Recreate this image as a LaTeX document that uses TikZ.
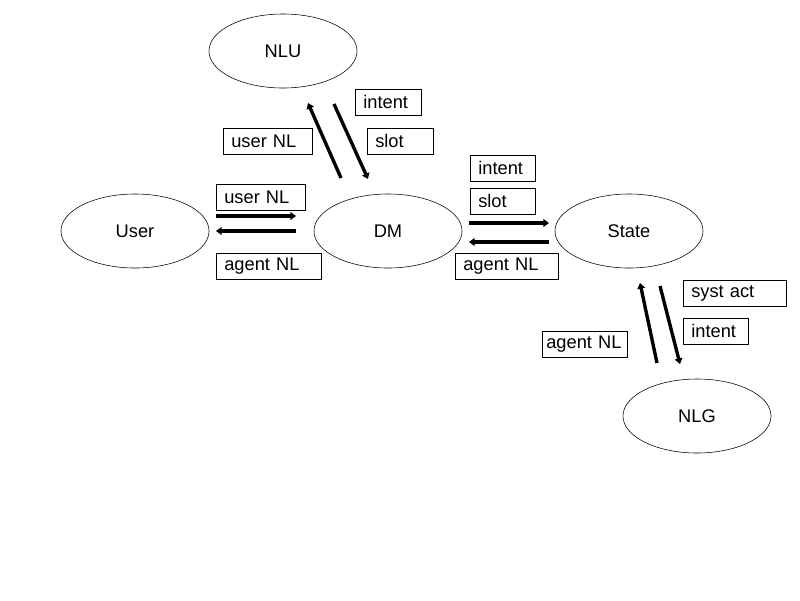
\documentclass[tikz,border=0pt]{standalone}
\usepackage{fontspec}
\setmainfont{Liberation Sans}
\usetikzlibrary{positioning, shapes.geometric, arrows.meta}

\begin{document}
\begin{tikzpicture}[
	x=0.025cm, y=-0.025cm,
	agent/.style={ellipse, draw, minimum width=3.7cm, minimum height=1.85cm, font=\fontsize{13}{15}\selectfont},
	tag/.style={rectangle, draw, anchor=north west, minimum height=0.64cm, inner xsep=0.2cm, align=left, font=\fontsize{13}{15}\selectfont},
	flow/.style={line width=2.4pt, -{Triangle[length=4pt, width=5.5pt]}},
]
\useasboundingbox (0,0) rectangle (800,600);

% modules
\node[agent] (nlu) at (283,51) {NLU};
\node[agent] (user) at (135,231) {User};
\node[agent] (dm) at (388,231) {DM};
\node[agent] (state) at (629,231) {State};
\node[agent] (nlg) at (697,416) {NLG};

% labels
\node[tag, text width=1.25cm] (intentnlu) at (355,89) {intent};
\node[tag, text width=1.825cm] (usernlnlu) at (223,128) {user NL};
\node[tag, text width=1.25cm] (slotnlu) at (367,128) {slot};
\node[tag, text width=1.225cm] (intentst) at (470,155) {intent};
\node[tag, text width=1.225cm] (slotst) at (470,188) {slot};
\node[tag, text width=1.825cm] (usernlud) at (216,184) {user NL};
\node[tag, text width=2.225cm] (agentnlud) at (216,253) {agent NL};
\node[tag, text width=2.175cm] (agentnlds) at (455,253) {agent NL};
\node[tag, text width=2.175cm] (systact) at (683,280) {syst act};
\node[tag, text width=1.925cm, inner xsep=0.1cm] (agentnlng) at (542,331) {agent NL};
\node[tag, text width=1.225cm] (intentng) at (683,318) {intent};

% arrow ends
\coordinate (udA) at (216,216);
\coordinate (udB) at (296,216);
\coordinate (duA) at (296,231);
\coordinate (duB) at (216,231);
\coordinate (dnA) at (341,178);
\coordinate (dnB) at (308,103);
\coordinate (ndA) at (334,104);
\coordinate (ndB) at (368,179);
\coordinate (dsA) at (469,223);
\coordinate (dsB) at (549,223);
\coordinate (sdA) at (549,242);
\coordinate (sdB) at (469,242);
\coordinate (gsA) at (657,363);
\coordinate (gsB) at (640,283);
\coordinate (sgA) at (660,286);
\coordinate (sgB) at (680,364);

\draw[flow] (udA) -- (udB);
\draw[flow] (duA) -- (duB);
\draw[flow] (dnA) -- (dnB);
\draw[flow] (ndA) -- (ndB);
\draw[flow] (dsA) -- (dsB);
\draw[flow] (sdA) -- (sdB);
\draw[flow] (gsA) -- (gsB);
\draw[flow] (sgA) -- (sgB);

\end{tikzpicture}
\end{document}
